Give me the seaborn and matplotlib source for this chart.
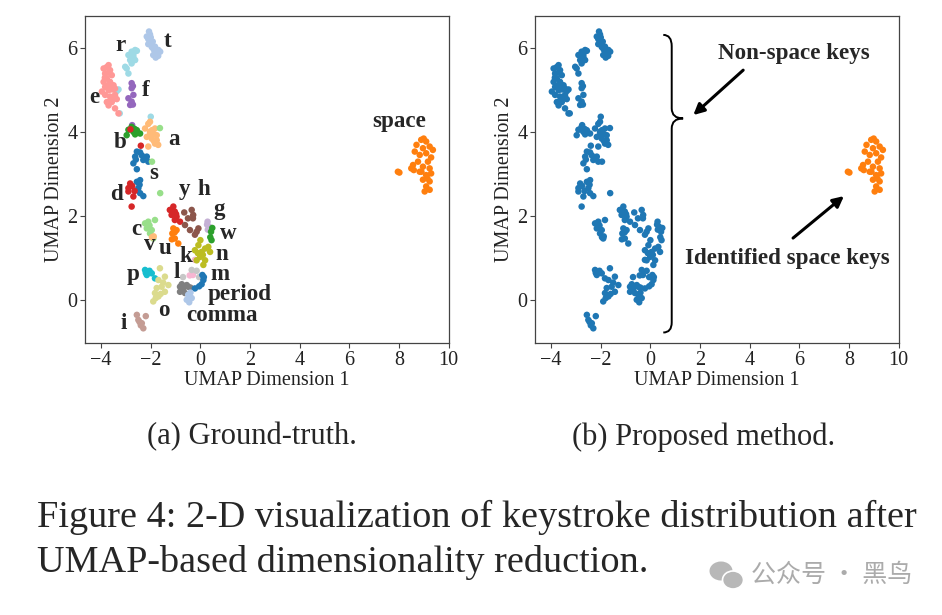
import numpy as np
import pandas as pd
import seaborn as sns
import matplotlib.pyplot as plt
from matplotlib.path import Path
from matplotlib.patches import PathPatch, Ellipse

# UMAP embeddings, one list of (x, y) per key
key_t = [(-2.07, 6.40), (-2.03, 6.33), (-2.16, 6.28), (-2.10, 6.22), (-2.03, 6.18), (-1.92, 6.16),
         (-2.10, 6.10), (-1.96, 6.03), (-1.83, 6.04), (-1.88, 5.97), (-1.69, 5.96), (-1.62, 5.92),
         (-1.76, 5.88), (-1.90, 5.84), (-1.80, 5.78), (-1.70, 5.82), (-2.00, 6.26)]
key_r = [(-2.56, 5.94), (-2.63, 5.96), (-2.77, 5.92), (-2.70, 5.86), (-2.90, 5.84), (-2.70, 5.80),
         (-2.83, 5.72), (-2.63, 5.72), (-2.77, 5.64), (-3.03, 5.56), (-2.97, 5.52), (-2.90, 5.40),
         (-3.30, 5.02), (-3.37, 4.98), (-3.25, 4.45), (-2.00, 4.37)]
key_e = [(-3.70, 5.60), (-3.78, 5.55), (-3.90, 5.52), (-3.64, 5.48), (-3.84, 5.40), (-3.70, 5.42),
         (-3.57, 5.36), (-3.77, 5.28), (-3.90, 5.20), (-3.64, 5.20), (-3.72, 5.12), (-3.50, 5.12),
         (-3.84, 5.08), (-3.70, 5.00), (-3.55, 5.02), (-3.44, 5.04), (-3.97, 4.97), (-3.84, 4.89),
         (-3.64, 4.85), (-3.44, 4.89), (-3.37, 4.79), (-3.77, 4.72), (-3.57, 4.72), (-3.70, 4.64),
         (-3.60, 4.80), (-3.44, 4.57), (-3.30, 4.45), (-3.85, 5.30)]
key_f = [(-2.77, 5.17), (-2.72, 5.10), (-2.77, 5.05), (-2.70, 4.89), (-2.90, 4.81), (-2.77, 4.73),
         (-2.83, 4.65), (-2.72, 4.66), (-2.75, 4.17)]
key_a = [(-2.03, 4.25), (-2.10, 4.20), (-2.23, 4.09), (-2.03, 4.01), (-1.83, 4.09), (-1.95, 4.05),
         (-1.90, 3.97), (-1.76, 3.93), (-2.05, 3.92), (-1.96, 3.85), (-1.76, 3.81), (-1.83, 3.73),
         (-1.70, 3.70), (-2.16, 3.89), (-2.10, 3.66), (-1.88, 3.80)]
key_b = [(-2.77, 4.13), (-2.90, 4.06), (-2.70, 4.01), (-2.56, 4.05), (-2.43, 3.97), (-2.97, 3.93),
         (-2.63, 3.95), (-2.65, 4.08)]
key_s = [(-2.43, 3.52), (-2.56, 3.54), (-2.63, 3.42), (-2.36, 3.45), (-2.16, 3.42), (-2.30, 3.34),
         (-2.10, 3.30), (-2.70, 3.26), (-2.56, 3.12), (-2.43, 2.86), (-2.56, 2.82), (-2.50, 2.67),
         (-2.43, 2.55), (-2.30, 2.48), (-2.45, 2.75), (-2.60, 3.35)]
key_d = [(-2.82, 4.07), (-2.40, 3.68), (-2.83, 2.78), (-2.90, 2.67), (-2.75, 2.72), (-2.90, 2.59),
         (-2.70, 2.47), (-2.77, 2.23), (-2.65, 2.60)]
key_y = [(-1.09, 2.23), (-1.23, 2.15), (-1.03, 2.11), (-1.16, 2.03), (-0.96, 1.99), (-1.03, 1.91),
         (-0.82, 1.87), (-1.12, 2.10), (-0.98, 2.05)]
key_h = [(-0.65, 2.09), (-0.35, 2.15), (-0.29, 2.03), (-0.62, 1.79), (-0.42, 1.67), (-0.15, 1.63),
         (-0.08, 1.71), (-0.22, 1.56), (-0.50, 1.95), (-0.30, 1.95)]
key_g = [(0.29, 1.87), (0.35, 1.75), (0.27, 1.80), (0.30, 1.68)]
key_w = [(0.43, 1.63), (0.45, 1.43), (0.48, 1.72), (0.40, 1.50)]
key_c = [(-2.23, 1.83), (-2.10, 1.87), (-1.83, 1.91), (-2.16, 1.71), (-2.05, 1.78), (-1.96, 1.67),
         (-2.03, 1.59), (-1.90, 1.47), (-1.63, 4.10), (-1.62, 2.55), (-1.95, 3.30)]
key_u = [(-1.09, 1.71), (-0.96, 1.67), (-1.13, 1.59), (-1.03, 1.62), (-1.03, 1.47), (-0.89, 1.35),
         (-1.15, 1.45)]
key_v = [(-1.88, 1.52), (-1.95, 1.50)]
key_k = [(-0.22, 0.96), (-0.43, 0.59), (-0.30, 0.60)]
key_n = [(0.00, 1.43), (-0.08, 1.31), (-0.22, 1.19), (0.05, 1.15), (0.19, 1.23), (0.39, 1.15),
         (-0.01, 1.03), (0.19, 0.95), (0.12, 0.84), (-0.15, 0.95), (0.32, 1.27), (0.10, 1.08),
         (-0.10, 1.12)]
key_p = [(-2.23, 0.72), (-2.10, 0.68), (-2.16, 0.60), (-1.96, 0.64), (-1.83, 0.52), (-2.05, 0.70),
         (-2.20, 0.65)]
key_o = [(-1.63, 0.76), (-1.43, 0.56), (-1.69, 0.48), (-1.29, 0.36), (-1.76, 0.29), (-1.56, 0.32),
         (-1.83, 0.17), (-1.69, 0.09), (-1.90, -0.03), (-1.43, 0.20), (-1.60, 0.15), (-1.80, 0.05),
         (-1.50, 0.42)]
key_l = [(-0.82, 0.32), (-0.69, 0.28), (-0.49, 0.32), (-0.62, 0.17), (-0.82, 0.20), (-0.55, 0.36),
         (-0.75, 0.38), (-0.40, 0.30)]
key_m = [(-0.35, 0.72), (-0.15, 0.70), (-0.70, 0.55), (-0.05, 0.55)]
key_period = [(0.08, 0.60), (0.12, 0.48), (0.05, 0.38), (-0.05, 0.33), (-0.22, 0.28), (0.14, 0.55)]
key_comma = [(-0.49, 0.13), (-0.55, 0.01), (-0.35, 0.05), (-0.45, -0.05), (-0.40, 0.18)]
key_i = [(-2.56, -0.35), (-2.50, -0.47), (-2.36, -0.55), (-2.30, -0.67), (-2.20, -0.38),
         (-2.45, -0.52), (-2.40, -0.60)]
key_space = [(7.96, 3.06), (8.02, 3.04), (8.90, 3.82), (9.10, 3.78), (9.24, 3.66), (8.71, 3.70),
             (8.97, 3.62), (8.64, 3.54), (8.84, 3.46), (9.10, 3.50), (8.57, 3.22), (8.77, 3.30),
             (8.97, 3.18), (9.24, 3.14), (9.30, 3.02), (9.10, 2.98), (8.91, 3.06), (8.97, 2.87),
             (9.24, 2.83), (9.10, 2.71), (9.04, 2.59), (9.24, 2.63), (8.50, 3.14), (9.17, 3.30),
             (9.37, 3.58), (8.84, 3.06), (9.00, 3.85), (9.30, 3.40), (8.60, 3.10), (9.15, 2.90)]

clusters = {'t': key_t, 'r': key_r, 'e': key_e, 'f': key_f, 'a': key_a, 'b': key_b, 's': key_s,
            'd': key_d, 'y': key_y, 'h': key_h, 'g': key_g, 'w': key_w, 'c': key_c, 'u': key_u,
            'v': key_v, 'k': key_k, 'n': key_n, 'p': key_p, 'o': key_o, 'l': key_l, 'm': key_m,
            'period': key_period, 'comma': key_comma, 'i': key_i, 'space': key_space}

key_colors = {'t': '#aec7e8', 'r': '#9edae5', 'e': '#ff9896', 'f': '#9467bd', 'a': '#ffbb78',
              'b': '#2ca02c', 's': '#1f77b4', 'd': '#d62728', 'y': '#d62728', 'h': '#8c564b',
              'g': '#c5b0d5', 'w': '#2ca02c', 'c': '#98df8a', 'u': '#ff7f0e', 'v': '#ffbb78',
              'k': '#f7b6d2', 'n': '#bcbd22', 'p': '#17becf', 'o': '#dbdb8d', 'l': '#7f7f7f',
              'm': '#c7c7c7', 'period': '#1f77b4', 'comma': '#aec7e8', 'i': '#c49c94',
              'space': '#ff7f0e'}

# where the key names sit in panel (a)
label_pos = {'t': (-1.32, 6.16), 'r': (-3.23, 6.06), 'e': (-4.28, 4.83), 'f': (-2.19, 5.00),
             'space': (8.01, 4.25), 'a': (-1.05, 3.83), 'b': (-3.23, 3.75), 's': (-1.89, 3.01),
             'd': (-3.37, 2.51), 'y': (-0.64, 2.63), 'h': (0.12, 2.63), 'g': (0.77, 2.15),
             'c': (-2.59, 1.69), 'w': (1.13, 1.60), 'v': (-2.03, 1.32), 'u': (-1.42, 1.24),
             'k': (-0.59, 1.04), 'n': (0.86, 1.09), 'p': (-2.70, 0.60), 'l': (-0.95, 0.66),
             'm': (0.79, 0.61), 'period': (1.57, 0.13), 'o': (-1.46, -0.25), 'comma': (0.86, -0.37),
             'i': (-3.10, -0.55)}

rows = []
for k, pts in clusters.items():
    for x, y in pts:
        rows.append((k, x, y))
df = pd.DataFrame(rows, columns=['key', 'x', 'y'])
df['pred'] = np.where(df.key == 'space', 'space', 'non-space')

sns.set_style('ticks')
plt.rcParams['font.family'] = ['Liberation Serif', 'DejaVu Serif']
plt.rcParams['axes.edgecolor'] = '#444444'
plt.rcParams['xtick.color'] = '#444444'
plt.rcParams['ytick.color'] = '#444444'
plt.rcParams['xtick.labelcolor'] = '#222222'
plt.rcParams['ytick.labelcolor'] = '#222222'

fig = plt.figure(figsize=(9.42, 6.15), dpi=100)
ax1 = fig.add_axes([85/942, 1-343/615, 364/942, 327/615])
ax2 = fig.add_axes([535/942, 1-343/615, 364/942, 327/615])

sns.scatterplot(data=df, x='x', y='y', hue='key', palette=key_colors, s=22, linewidth=0,
                legend=False, ax=ax1)
sns.scatterplot(data=df, x='x', y='y', hue='pred', palette={'non-space': '#1f77b4', 'space': '#ff7f0e'},
                s=22, linewidth=0, legend=False, ax=ax2)

for ax in (ax1, ax2):
    ax.set_xlim(-4.65, 10.02)
    ax.set_ylim(-1.02, 6.77)
    ax.set_xticks(range(-4, 11, 2))
    ax.set_yticks([0, 2, 4, 6])
    ax.tick_params(labelsize=14.5, length=3.5, width=0.8, pad=2)
    ax.set_xlabel('UMAP Dimension 1', fontsize=14.5, color='#222222', labelpad=1)
    ax.set_ylabel('UMAP Dimension 2', fontsize=14.5, color='#222222', labelpad=2)
    for sp in ax.spines.values():
        sp.set_linewidth(0.9)

for k, (lx, ly) in label_pos.items():
    ax1.text(lx, ly, k, fontsize=16.6, fontweight='bold', ha='center', va='center')

# curly brace around the non-space keys
brace = Path([(0.52, 6.32), (0.86, 6.32), (0.86, 6.05), (0.86, 4.57), (0.86, 4.33), (1.32, 4.33),
              (0.86, 4.33), (0.86, 4.09), (0.86, -0.53), (0.86, -0.77), (0.52, -0.77)],
             [Path.MOVETO, Path.CURVE3, Path.CURVE3, Path.LINETO, Path.CURVE3, Path.CURVE3,
              Path.CURVE3, Path.CURVE3, Path.LINETO, Path.CURVE3, Path.CURVE3])
ax2.add_patch(PathPatch(brace, fill=False, lw=1.4, color='black'))

ax2.text(5.78, 5.88, 'Non-space keys', fontsize=16.6, fontweight='bold', ha='center', va='center')
ax2.text(5.52, 1.00, 'Identified space keys', fontsize=16.6, fontweight='bold', ha='center', va='center')
arrow = dict(arrowstyle='-|>', lw=2.2, color='black', mutation_scale=16, shrinkA=0, shrinkB=0)
ax2.annotate('', xy=(1.73, 4.41), xytext=(3.74, 5.48), arrowprops=arrow)
ax2.annotate('', xy=(7.80, 2.48), xytext=(5.75, 1.48), arrowprops=arrow)

fig.text(252/942, 1-437/615, '(a) Ground-truth.', fontsize=22, ha='center', va='center')
fig.text(704/942, 1-437/615, '(b) Proposed method.', fontsize=22, ha='center', va='center')
fig.text(37/942, 1-517/615, 'Figure 4: 2-D visualization of keystroke distribution after',
         fontsize=27.5, ha='left', va='center')
fig.text(37/942, 1-562/615, 'UMAP-based dimensionality reduction.',
         fontsize=27.5, ha='left', va='center')

# watermark
fig.patches.append(Ellipse((721/942, 1-571/615), 23/942, 19/615, transform=fig.transFigure,
                           facecolor='#b8b8b8', edgecolor='none'))
fig.patches.append(Ellipse((733/942, 1-580/615), 21/942, 18/615, transform=fig.transFigure,
                           facecolor='#b8b8b8', edgecolor='white', lw=1.2))
fig.text(912/942, 1-575/615, '公众号 · 黑鸟', fontsize=18, ha='right', va='center', color='#ababab',
         family=['Noto Sans CJK SC', 'DejaVu Sans'])

fig.savefig('out.png', dpi=100)
